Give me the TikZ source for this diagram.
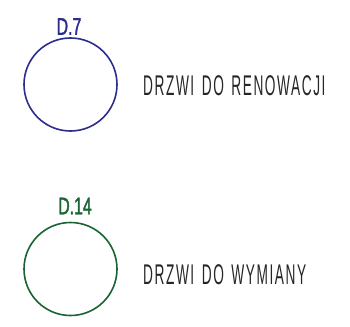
\documentclass[tikz,border=0pt]{standalone}
\usepackage{fontspec}
\newfontfamily\cadfont[FakeStretch=0.48,LetterSpace=5.5,WordSpace=1.4]{Liberation Sans}
\newfontfamily\cadlabel[FakeStretch=0.66,FakeBold=1.5]{Liberation Sans}
\definecolor{dblue}{RGB}{43,45,140}
\definecolor{dgreen}{RGB}{25,100,50}
\tikzset{
  door/.style={circle, draw, line width=1.6pt, minimum size=93pt, inner sep=0pt},
  tag/.style={inner sep=0pt, font=\cadlabel\fontsize{24}{24}\selectfont},
  legend/.style={inner sep=0pt, anchor=west, text=black!85, font=\cadfont\fontsize{28.5}{28.5}\selectfont}
}
\begin{document}
\begin{tikzpicture}[x=1pt, y=-1pt]
\useasboundingbox (0,0) rectangle (350,326);
\node[door, draw=dblue] (c1) at (70.5,84.5) {};
\node[tag, text=dblue] (t1) at (69,26.5) {D.7};
\node[legend] (l1) at (143,86) {DRZWI DO RENOWACJI};
\node[door, draw=dgreen] (c2) at (70.5,269) {};
\node[tag, text=dgreen] (t2) at (75,206) {D.14};
\node[legend] (l2) at (143,275) {DRZWI DO WYMIANY};
\end{tikzpicture}
\end{document}
